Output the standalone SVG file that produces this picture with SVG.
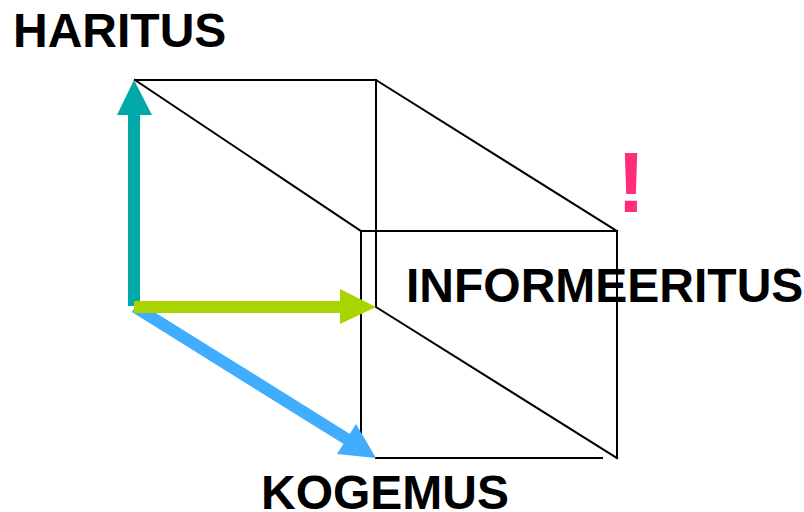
<svg xmlns="http://www.w3.org/2000/svg" width="804" height="512" viewBox="0 0 804 512">
<style>
.edge{stroke:#000;stroke-width:2;fill:none;stroke-linecap:square}
.lbl{font-family:"Liberation Sans",Arial,sans-serif;font-weight:bold;font-size:48px;fill:#000}
</style>
<rect width="804" height="512" fill="#fff"/>
<g id="cube">
<line class="edge" x1="135" y1="80" x2="376" y2="80"/>
<line class="edge" x1="376" y1="80" x2="376" y2="307"/>
<line class="edge" x1="135" y1="80" x2="361" y2="231"/>
<line class="edge" x1="376" y1="80" x2="617" y2="231"/>
<line class="edge" x1="376" y1="307" x2="617" y2="458"/>
<line class="edge" x1="361" y1="231" x2="617" y2="231"/>
<line class="edge" x1="361" y1="231" x2="361" y2="443"/>
<line class="edge" x1="617" y1="231" x2="617" y2="458"/>
<line class="edge" x1="376" y1="458" x2="602" y2="458"/>
</g>
<g id="connectors">
<g id="arrow-haritus">
<rect x="128" y="113" width="12" height="193" fill="#00A8A8"/>
<polygon points="134,80 152,115 117,115" fill="#00A8A8"/>
</g>
<g id="arrow-kogemus">
<line x1="135" y1="307" x2="350" y2="441" stroke="#42ADFF" stroke-width="12"/>
<polygon points="376,458 337,454 356,424" fill="#42ADFF"/>
</g>
<g id="arrow-informeeritus">
<rect x="134" y="301" width="208" height="12" fill="#A8D400"/>
<polygon points="376,307 340,289 340,324" fill="#A8D400"/>
</g>
</g>
<g id="haritus"><text class="lbl" x="13" y="47">HARITUS</text></g>
<g id="informeeritus"><text class="lbl" x="406" y="302">INFORMEERITUS</text></g>
<g id="kogemus"><text class="lbl" x="261" y="509">KOGEMUS</text></g>
<g id="exclamation"><text x="631" y="212" text-anchor="middle" style="font-family:'Liberation Sans',Arial,sans-serif;font-weight:bold;font-size:86px;fill:#FF2D7A">!</text></g>
</svg>
